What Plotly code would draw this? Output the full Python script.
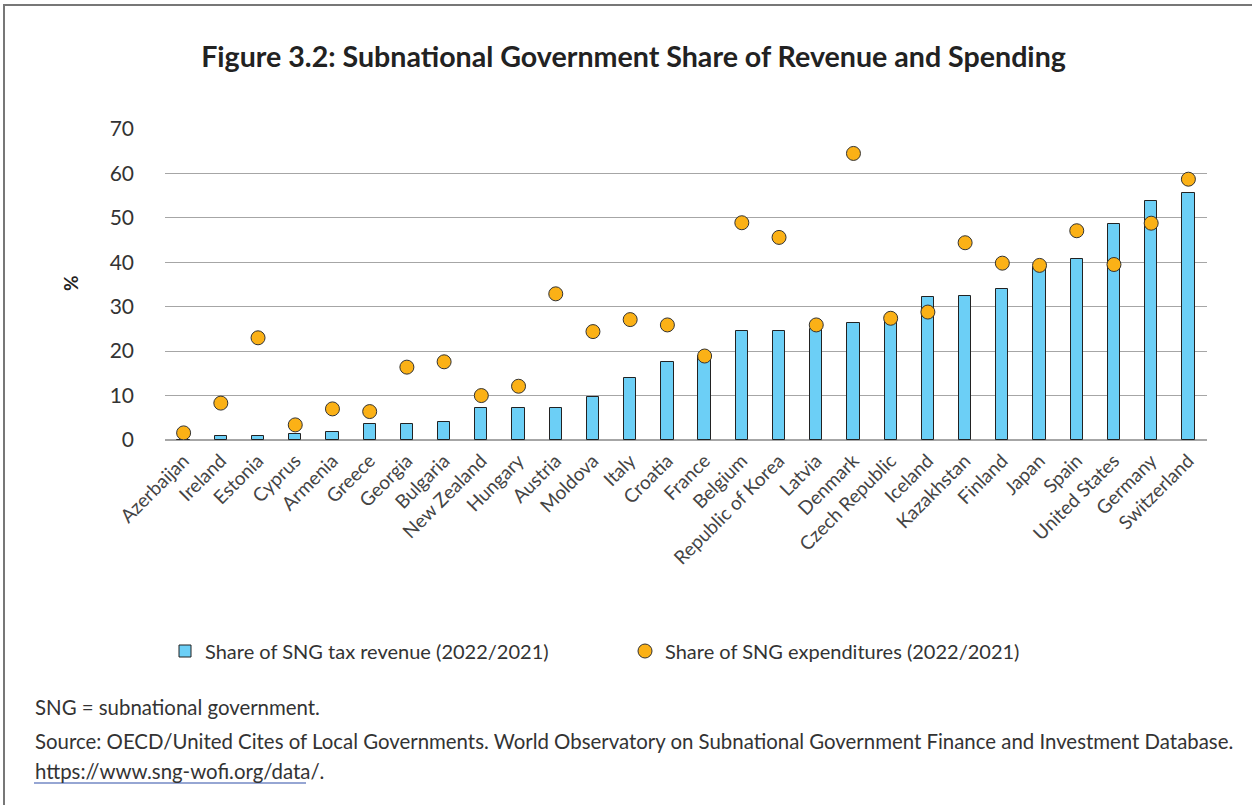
import plotly.graph_objects as go

countries = [
    "Azerbaijan", "Ireland", "Estonia", "Cyprus", "Armenia", "Greece", "Georgia",
    "Bulgaria", "New Zealand", "Hungary", "Austria", "Moldova", "Italy", "Croatia",
    "France", "Belgium", "Republic of Korea", "Latvia", "Denmark", "Czech Republic",
    "Iceland", "Kazakhstan", "Finland", "Japan", "Spain", "United States", "Germany",
    "Switzerland",
]
tax_revenue = [
    0.0, 0.9, 0.9, 1.3, 1.8, 3.7, 3.7,
    4.0, 7.3, 7.3, 7.3, 9.7, 13.9, 17.6,
    19.0, 24.6, 24.6, 25.0, 26.4, 27.0,
    32.1, 32.4, 34.0, 39.0, 40.7, 48.6, 53.8,
    55.6,
]
expenditures = [
    1.6, 8.3, 23.0, 3.4, 7.0, 6.4, 16.4,
    17.6, 10.0, 12.1, 32.9, 24.4, 27.1, 25.9,
    18.9, 48.9, 45.6, 25.9, 64.5, 27.4,
    28.8, 44.4, 39.8, 39.3, 47.1, 39.5, 48.8,
    58.7,
]
y_ticks = [0, 10, 20, 30, 40, 50, 60, 70]

# plot-area geometry in pixels (used to place paper-referenced extras)
W, H = 1252, 805
L, R, T, B = 165, 1207, 129, 440


def px(x):
    return (x - L) / (R - L)


def py(y):
    return (B - y) / (B - T)


FONT = "Lato, 'Open Sans', sans-serif"
TXT = "#333333"

fig = go.Figure()
fig.add_trace(go.Bar(
    x=countries, y=tax_revenue,
    name="Share of SNG tax revenue (2022/2021)",
    marker=dict(color="#6CCFF6", line=dict(color="#222222", width=1)),
    width=0.33,
))
fig.add_trace(go.Scatter(
    x=countries, y=expenditures, mode="markers",
    name="Share of SNG expenditures (2022/2021)",
    marker=dict(color="#FBB116", size=14, line=dict(color="#333333", width=1)),
))

fig.update_layout(
    width=W, height=H,
    margin=dict(l=L, r=W - R, t=T, b=H - B, autoexpand=False),
    paper_bgcolor="white", plot_bgcolor="white",
    font=dict(family=FONT, color=TXT),
    title=dict(
        text="<b>Figure 3.2: Subnational Government Share of Revenue and Spending</b>",
        x=0.506, xref="container", xanchor="center",
        y=1 - 57 / H, yref="container", yanchor="middle",
        font=dict(family=FONT, size=28.6, color="#222222"),
    ),
    showlegend=True,
    legend=dict(
        orientation="h", x=px(165), xanchor="left",
        y=py(651), yanchor="middle",
        font=dict(size=20, color=TXT), entrywidth=415, entrywidthmode="pixels",
        bgcolor="rgba(0,0,0,0)",
    ),
    xaxis=dict(
        tickangle=-45, tickfont=dict(size=19, color="#444444"),
        ticklabelstandoff=5,
        showgrid=False, showline=False, ticks="",
        range=[-0.5, len(countries) - 0.5],
    ),
    yaxis=dict(
        range=[0, 70], tickvals=y_ticks, ticktext=[str(v) for v in y_ticks],
        tickfont=dict(size=21, color=TXT), ticklabelstandoff=30,
        showgrid=True, gridcolor="#A6A6A6", gridwidth=1,
        zeroline=True, zerolinecolor="#A6A6A6", zerolinewidth=1.5,
        showline=False,
    ),
    bargap=0.0,
)

fig.add_annotation(
    text="<b>%</b>", textangle=-90, x=px(70), y=py(283),
    xref="paper", yref="paper", xanchor="center", yanchor="middle",
    showarrow=False, font=dict(size=19, color="#222222"),
)

notes = [
    (707, "SNG = subnational government."),
    (741, "Source: OECD/United Cites of Local Governments. World Observatory on Subnational Government Finance and Investment Database."),
    (771, "https://www.sng-wofi.org/data/."),
]
for y, t in notes:
    fig.add_annotation(
        text=t, x=px(33), y=py(y), xref="paper", yref="paper",
        xanchor="left", yanchor="middle", showarrow=False,
        font=dict(size=20.4, color=TXT),
    )

# link underline
fig.add_shape(type="line", xref="paper", yref="paper",
              x0=px(34), x1=px(306), y0=py(783), y1=py(783),
              line=dict(color="#2F4FA8", width=1.2))

# outer frame
fig.add_shape(type="rect", xref="paper", yref="paper",
              x0=px(4), x1=px(1260), y0=py(812), y1=py(5),
              line=dict(color="#777777", width=2), fillcolor="rgba(0,0,0,0)",
              layer="below")

fig.write_html("out.html")
